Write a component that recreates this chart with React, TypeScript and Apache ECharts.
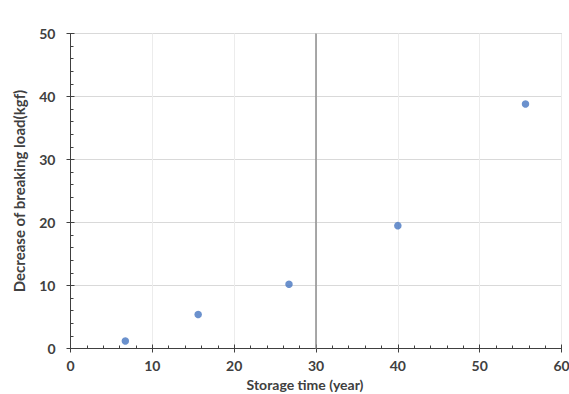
import React, { useEffect, useRef } from "react";
import * as echarts from "echarts";

const storageYears = [6.7, 15.6, 26.7, 40.0, 55.6];
const loadDecrease = [1.2, 5.4, 10.2, 19.5, 38.8];
const xTicks = { min: 0, max: 60, interval: 10 };
const yTicks = { min: 0, max: 50, interval: 10 };
const xName = "Storage time (year)";
const yName = "Decrease of breaking load(kgf)";

const FONT = "Lato, 'Open Sans', sans-serif";
const TEXT = "#404040";

export default function App() {
  const ref = useRef<HTMLDivElement>(null);
  useEffect(() => {
    if (!ref.current) return;
    const chart = echarts.init(ref.current, undefined, { renderer: "svg" });
    const labelStyle = { color: TEXT, fontFamily: FONT, fontWeight: "bold" as const, fontSize: 14 };
    chart.setOption({
      animation: false,
      backgroundColor: "#ffffff",
      grid: {
        left: 70.5,
        right: 7.5,
        top: 33.5,
        bottom: 45.5,
        show: true,
        borderColor: "#a6a6a6",
        borderWidth: 1,
        containLabel: false,
        outerBoundsMode: "none",
      },
      xAxis: [
        {
          type: "value",
          min: xTicks.min,
          max: xTicks.max,
          interval: xTicks.interval,
          name: xName,
          nameLocation: "middle",
          nameGap: 24,
          nameTextStyle: {
            color: TEXT,
            fontFamily: FONT,
            fontWeight: "bold",
            fontSize: 14,
            lineHeight: 14,
            padding: [0, 22, 0, 0],
          },
          axisLine: { lineStyle: { color: "#404040", width: 1 } },
          axisTick: { show: true, inside: true, length: 4, lineStyle: { color: "#404040" } },
          minorTick: { show: true, splitNumber: 5, length: 3, lineStyle: { color: "#404040" } },
          axisLabel: { ...labelStyle, margin: 10 },
          splitLine: { show: true, lineStyle: { color: "#ececec", width: 1 } },
        },
        {
          type: "value",
          position: "bottom",
          min: xTicks.min,
          max: xTicks.max,
          interval: xTicks.interval,
          axisLine: { show: false },
          axisTick: { show: true, inside: false, length: 4, lineStyle: { color: "#404040" } },
          axisLabel: { show: false },
          splitLine: { show: false },
        },
      ],
      yAxis: [
        {
          type: "value",
          min: yTicks.min,
          max: yTicks.max,
          interval: yTicks.interval,
          name: yName,
          nameLocation: "middle",
          nameGap: 44,
          nameTextStyle: { color: TEXT, fontFamily: FONT, fontWeight: "bold", fontSize: 15 },
          axisLine: { show: true, lineStyle: { color: "#404040", width: 1 } },
          axisTick: { show: true, inside: true, length: 4, lineStyle: { color: "#404040" } },
          minorTick: { show: true, splitNumber: 5, length: 3, lineStyle: { color: "#404040" } },
          axisLabel: { ...labelStyle, margin: 15 },
          splitLine: { show: true, lineStyle: { color: "#d9d9d9", width: 1 } },
        },
        {
          type: "value",
          position: "left",
          min: yTicks.min,
          max: yTicks.max,
          interval: yTicks.interval,
          axisLine: { show: false },
          axisTick: { show: true, inside: false, length: 4, lineStyle: { color: "#404040" } },
          axisLabel: { show: false },
          splitLine: { show: false },
        },
      ],
      series: [
        {
          type: "scatter",
          xAxisIndex: 0,
          yAxisIndex: 0,
          symbol: "circle",
          symbolSize: 7.5,
          itemStyle: { color: "#4676c0" },
          data: storageYears.map((x, i) => [x, loadDecrease[i]]),
          markLine: {
            silent: true,
            symbol: "none",
            label: { show: false },
            lineStyle: { color: "#8c8c8c", type: "solid", width: 1.5 },
            data: [{ xAxis: 30 }],
          },
        },
      ],
    });
    return () => chart.dispose();
  }, []);
  return <div ref={ref} style={{ width: 569, height: 394, position: "absolute", left: 0, top: 0 }} />;
}
